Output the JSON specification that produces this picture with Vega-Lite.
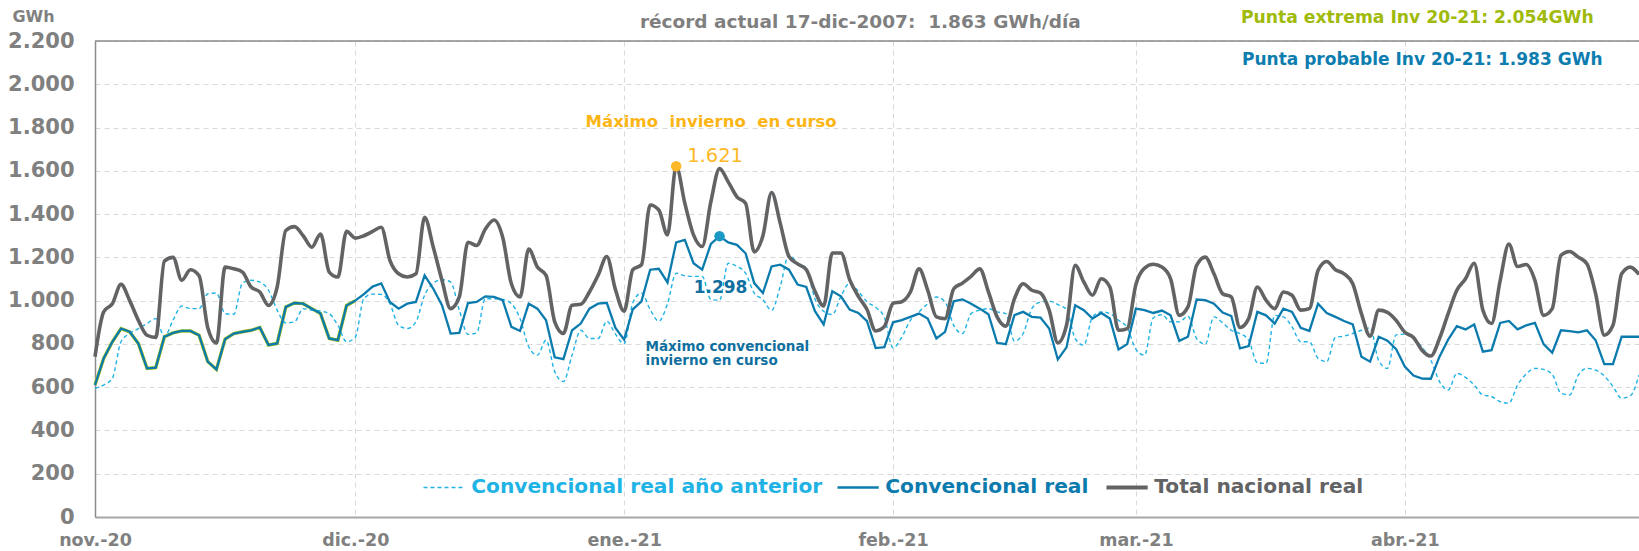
{
  "$schema": "https://vega.github.io/schema/vega-lite/v6.json",
  "width": 1544,
  "height": 476,
  "autosize": {"type": "none"},
  "padding": {"left": 95, "top": 41, "right": 0, "bottom": 34},
  "background": "white",
  "config": {
    "view": {"stroke": null},
    "font": "DejaVu Sans",
    "locale": {"number": {"decimal": ",", "thousands": ".", "grouping": [3], "currency": ["", " €"]}}
  },
  "datasets": {
    "gas": [
      {"fecha": "2020-11-01", "total": 741, "conv": 610, "ant": 595},
      {"fecha": "2020-11-02", "total": 948, "conv": 733, "ant": 610},
      {"fecha": "2020-11-03", "total": 986, "conv": 810, "ant": 641},
      {"fecha": "2020-11-04", "total": 1075, "conv": 871, "ant": 810},
      {"fecha": "2020-11-05", "total": 1000, "conv": 856, "ant": 848},
      {"fecha": "2020-11-06", "total": 909, "conv": 802, "ant": 871},
      {"fecha": "2020-11-07", "total": 840, "conv": 687, "ant": 894},
      {"fecha": "2020-11-08", "total": 830, "conv": 690, "ant": 917},
      {"fecha": "2020-11-09", "total": 1183, "conv": 833, "ant": 833},
      {"fecha": "2020-11-10", "total": 1200, "conv": 851, "ant": 910},
      {"fecha": "2020-11-11", "total": 1094, "conv": 860, "ant": 975},
      {"fecha": "2020-11-12", "total": 1143, "conv": 860, "ant": 963},
      {"fecha": "2020-11-13", "total": 1115, "conv": 840, "ant": 963},
      {"fecha": "2020-11-14", "total": 875, "conv": 718, "ant": 1032},
      {"fecha": "2020-11-15", "total": 805, "conv": 682, "ant": 1035},
      {"fecha": "2020-11-16", "total": 1155, "conv": 822, "ant": 940},
      {"fecha": "2020-11-17", "total": 1147, "conv": 848, "ant": 937},
      {"fecha": "2020-11-18", "total": 1132, "conv": 856, "ant": 1081},
      {"fecha": "2020-11-19", "total": 1063, "conv": 863, "ant": 1094},
      {"fecha": "2020-11-20", "total": 1040, "conv": 876, "ant": 1086},
      {"fecha": "2020-11-21", "total": 978, "conv": 795, "ant": 1048},
      {"fecha": "2020-11-22", "total": 1063, "conv": 802, "ant": 956},
      {"fecha": "2020-11-23", "total": 1324, "conv": 971, "ant": 897},
      {"fecha": "2020-11-24", "total": 1342, "conv": 989, "ant": 902},
      {"fecha": "2020-11-25", "total": 1300, "conv": 986, "ant": 963},
      {"fecha": "2020-11-26", "total": 1247, "conv": 963, "ant": 956},
      {"fecha": "2020-11-27", "total": 1308, "conv": 940, "ant": 952},
      {"fecha": "2020-11-28", "total": 1132, "conv": 825, "ant": 940},
      {"fecha": "2020-11-29", "total": 1109, "conv": 817, "ant": 886},
      {"fecha": "2020-11-30", "total": 1321, "conv": 978, "ant": 810},
      {"fecha": "2020-12-01", "total": 1289, "conv": 1000, "ant": 830},
      {"fecha": "2020-12-02", "total": 1300, "conv": 1030, "ant": 1010},
      {"fecha": "2020-12-03", "total": 1320, "conv": 1065, "ant": 1030},
      {"fecha": "2020-12-04", "total": 1339, "conv": 1080, "ant": 1029},
      {"fecha": "2020-12-05", "total": 1186, "conv": 994, "ant": 986},
      {"fecha": "2020-12-06", "total": 1124, "conv": 963, "ant": 886},
      {"fecha": "2020-12-07", "total": 1109, "conv": 986, "ant": 871},
      {"fecha": "2020-12-08", "total": 1124, "conv": 994, "ant": 902},
      {"fecha": "2020-12-09", "total": 1385, "conv": 1117, "ant": 1025},
      {"fecha": "2020-12-10", "total": 1247, "conv": 1055, "ant": 1081},
      {"fecha": "2020-12-11", "total": 1094, "conv": 979, "ant": 1097},
      {"fecha": "2020-12-12", "total": 963, "conv": 848, "ant": 1086},
      {"fecha": "2020-12-13", "total": 1017, "conv": 851, "ant": 956},
      {"fecha": "2020-12-14", "total": 1270, "conv": 989, "ant": 844},
      {"fecha": "2020-12-15", "total": 1255, "conv": 994, "ant": 851},
      {"fecha": "2020-12-16", "total": 1331, "conv": 1020, "ant": 1009},
      {"fecha": "2020-12-17", "total": 1373, "conv": 1017, "ant": 1009},
      {"fecha": "2020-12-18", "total": 1293, "conv": 1002, "ant": 1005},
      {"fecha": "2020-12-19", "total": 1078, "conv": 879, "ant": 986},
      {"fecha": "2020-12-20", "total": 1017, "conv": 860, "ant": 917},
      {"fecha": "2020-12-21", "total": 1239, "conv": 986, "ant": 787},
      {"fecha": "2020-12-22", "total": 1155, "conv": 963, "ant": 748},
      {"fecha": "2020-12-23", "total": 1117, "conv": 909, "ant": 817},
      {"fecha": "2020-12-24", "total": 902, "conv": 738, "ant": 672},
      {"fecha": "2020-12-25", "total": 848, "conv": 730, "ant": 626},
      {"fecha": "2020-12-26", "total": 979, "conv": 863, "ant": 748},
      {"fecha": "2020-12-27", "total": 983, "conv": 894, "ant": 863},
      {"fecha": "2020-12-28", "total": 1040, "conv": 963, "ant": 825},
      {"fecha": "2020-12-29", "total": 1117, "conv": 986, "ant": 825},
      {"fecha": "2020-12-30", "total": 1204, "conv": 990, "ant": 905},
      {"fecha": "2020-12-31", "total": 1051, "conv": 874, "ant": 845},
      {"fecha": "2021-01-01", "total": 951, "conv": 820, "ant": 800},
      {"fecha": "2021-01-02", "total": 1143, "conv": 960, "ant": 989},
      {"fecha": "2021-01-03", "total": 1166, "conv": 997, "ant": 1035},
      {"fecha": "2021-01-04", "total": 1442, "conv": 1143, "ant": 959},
      {"fecha": "2021-01-05", "total": 1419, "conv": 1147, "ant": 905},
      {"fecha": "2021-01-06", "total": 1304, "conv": 1084, "ant": 986},
      {"fecha": "2021-01-07", "total": 1621, "conv": 1269, "ant": 1127},
      {"fecha": "2021-01-08", "total": 1450, "conv": 1281, "ant": 1115},
      {"fecha": "2021-01-09", "total": 1304, "conv": 1173, "ant": 1112},
      {"fecha": "2021-01-10", "total": 1250, "conv": 1143, "ant": 1112},
      {"fecha": "2021-01-11", "total": 1457, "conv": 1262, "ant": 1005},
      {"fecha": "2021-01-12", "total": 1610, "conv": 1298, "ant": 1002},
      {"fecha": "2021-01-13", "total": 1549, "conv": 1269, "ant": 1173},
      {"fecha": "2021-01-14", "total": 1480, "conv": 1258, "ant": 1158},
      {"fecha": "2021-01-15", "total": 1450, "conv": 1219, "ant": 1127},
      {"fecha": "2021-01-16", "total": 1225, "conv": 1081, "ant": 1035},
      {"fecha": "2021-01-17", "total": 1300, "conv": 1035, "ant": 1005},
      {"fecha": "2021-01-18", "total": 1500, "conv": 1158, "ant": 955},
      {"fecha": "2021-01-19", "total": 1357, "conv": 1166, "ant": 1066},
      {"fecha": "2021-01-20", "total": 1204, "conv": 1143, "ant": 1212},
      {"fecha": "2021-01-21", "total": 1170, "conv": 1074, "ant": 1173},
      {"fecha": "2021-01-22", "total": 1143, "conv": 1063, "ant": 1150},
      {"fecha": "2021-01-23", "total": 1043, "conv": 951, "ant": 1008},
      {"fecha": "2021-01-24", "total": 975, "conv": 890, "ant": 951},
      {"fecha": "2021-01-25", "total": 1220, "conv": 1043, "ant": 936},
      {"fecha": "2021-01-26", "total": 1220, "conv": 1020, "ant": 1020},
      {"fecha": "2021-01-27", "total": 1097, "conv": 959, "ant": 1081},
      {"fecha": "2021-01-28", "total": 1020, "conv": 943, "ant": 1043},
      {"fecha": "2021-01-29", "total": 959, "conv": 905, "ant": 995},
      {"fecha": "2021-01-30", "total": 860, "conv": 781, "ant": 969},
      {"fecha": "2021-01-31", "total": 880, "conv": 785, "ant": 922},
      {"fecha": "2021-02-01", "total": 988, "conv": 900, "ant": 782},
      {"fecha": "2021-02-02", "total": 995, "conv": 910, "ant": 830},
      {"fecha": "2021-02-03", "total": 1040, "conv": 925, "ant": 909},
      {"fecha": "2021-02-04", "total": 1147, "conv": 940, "ant": 948},
      {"fecha": "2021-02-05", "total": 1048, "conv": 917, "ant": 986},
      {"fecha": "2021-02-06", "total": 925, "conv": 825, "ant": 1017},
      {"fecha": "2021-02-07", "total": 917, "conv": 856, "ant": 994},
      {"fecha": "2021-02-08", "total": 1055, "conv": 997, "ant": 886},
      {"fecha": "2021-02-09", "total": 1081, "conv": 1006, "ant": 848},
      {"fecha": "2021-02-10", "total": 1112, "conv": 986, "ant": 940},
      {"fecha": "2021-02-11", "total": 1147, "conv": 963, "ant": 956},
      {"fecha": "2021-02-12", "total": 1040, "conv": 937, "ant": 963},
      {"fecha": "2021-02-13", "total": 925, "conv": 805, "ant": 948},
      {"fecha": "2021-02-14", "total": 882, "conv": 799, "ant": 940},
      {"fecha": "2021-02-15", "total": 1009, "conv": 933, "ant": 813},
      {"fecha": "2021-02-16", "total": 1078, "conv": 948, "ant": 848},
      {"fecha": "2021-02-17", "total": 1048, "conv": 925, "ant": 963},
      {"fecha": "2021-02-18", "total": 1035, "conv": 922, "ant": 994},
      {"fecha": "2021-02-19", "total": 956, "conv": 871, "ant": 998},
      {"fecha": "2021-02-20", "total": 805, "conv": 728, "ant": 982},
      {"fecha": "2021-02-21", "total": 886, "conv": 784, "ant": 959},
      {"fecha": "2021-02-22", "total": 1163, "conv": 979, "ant": 825},
      {"fecha": "2021-02-23", "total": 1086, "conv": 956, "ant": 794},
      {"fecha": "2021-02-24", "total": 1025, "conv": 917, "ant": 925},
      {"fecha": "2021-02-25", "total": 1101, "conv": 943, "ant": 948},
      {"fecha": "2021-02-26", "total": 1063, "conv": 917, "ant": 940},
      {"fecha": "2021-02-27", "total": 863, "conv": 774, "ant": 909},
      {"fecha": "2021-02-28", "total": 871, "conv": 799, "ant": 875},
      {"fecha": "2021-03-01", "total": 1075, "conv": 963, "ant": 775},
      {"fecha": "2021-03-02", "total": 1150, "conv": 956, "ant": 748},
      {"fecha": "2021-03-03", "total": 1168, "conv": 943, "ant": 920},
      {"fecha": "2021-03-04", "total": 1155, "conv": 954, "ant": 935},
      {"fecha": "2021-03-05", "total": 1101, "conv": 932, "ant": 902},
      {"fecha": "2021-03-06", "total": 932, "conv": 814, "ant": 902},
      {"fecha": "2021-03-07", "total": 971, "conv": 833, "ant": 928},
      {"fecha": "2021-03-08", "total": 1163, "conv": 1005, "ant": 825},
      {"fecha": "2021-03-09", "total": 1201, "conv": 1002, "ant": 799},
      {"fecha": "2021-03-10", "total": 1124, "conv": 986, "ant": 925},
      {"fecha": "2021-03-11", "total": 1032, "conv": 945, "ant": 897},
      {"fecha": "2021-03-12", "total": 1017, "conv": 929, "ant": 863},
      {"fecha": "2021-03-13", "total": 876, "conv": 779, "ant": 848},
      {"fecha": "2021-03-14", "total": 917, "conv": 790, "ant": 817},
      {"fecha": "2021-03-15", "total": 1063, "conv": 948, "ant": 713},
      {"fecha": "2021-03-16", "total": 1002, "conv": 932, "ant": 710},
      {"fecha": "2021-03-17", "total": 963, "conv": 894, "ant": 932},
      {"fecha": "2021-03-18", "total": 1040, "conv": 963, "ant": 925},
      {"fecha": "2021-03-19", "total": 1025, "conv": 948, "ant": 879},
      {"fecha": "2021-03-20", "total": 956, "conv": 874, "ant": 810},
      {"fecha": "2021-03-21", "total": 963, "conv": 860, "ant": 810},
      {"fecha": "2021-03-22", "total": 1140, "conv": 986, "ant": 733},
      {"fecha": "2021-03-23", "total": 1181, "conv": 943, "ant": 718},
      {"fecha": "2021-03-24", "total": 1143, "conv": 925, "ant": 830},
      {"fecha": "2021-03-25", "total": 1124, "conv": 906, "ant": 836},
      {"fecha": "2021-03-26", "total": 1078, "conv": 890, "ant": 848},
      {"fecha": "2021-03-27", "total": 940, "conv": 741, "ant": 863},
      {"fecha": "2021-03-28", "total": 836, "conv": 718, "ant": 874},
      {"fecha": "2021-03-29", "total": 956, "conv": 833, "ant": 722},
      {"fecha": "2021-03-30", "total": 946, "conv": 815, "ant": 687},
      {"fecha": "2021-03-31", "total": 909, "conv": 776, "ant": 842},
      {"fecha": "2021-04-01", "total": 854, "conv": 695, "ant": 845},
      {"fecha": "2021-04-02", "total": 830, "conv": 654, "ant": 825},
      {"fecha": "2021-04-03", "total": 770, "conv": 640, "ant": 784},
      {"fecha": "2021-04-04", "total": 744, "conv": 639, "ant": 725},
      {"fecha": "2021-04-05", "total": 825, "conv": 741, "ant": 626},
      {"fecha": "2021-04-06", "total": 940, "conv": 820, "ant": 587},
      {"fecha": "2021-04-07", "total": 1048, "conv": 882, "ant": 664},
      {"fecha": "2021-04-08", "total": 1101, "conv": 867, "ant": 645},
      {"fecha": "2021-04-09", "total": 1173, "conv": 890, "ant": 610},
      {"fecha": "2021-04-10", "total": 956, "conv": 764, "ant": 564},
      {"fecha": "2021-04-11", "total": 894, "conv": 771, "ant": 557},
      {"fecha": "2021-04-12", "total": 1094, "conv": 897, "ant": 533},
      {"fecha": "2021-04-13", "total": 1262, "conv": 906, "ant": 526},
      {"fecha": "2021-04-14", "total": 1158, "conv": 867, "ant": 610},
      {"fecha": "2021-04-15", "total": 1167, "conv": 886, "ant": 661},
      {"fecha": "2021-04-16", "total": 1094, "conv": 897, "ant": 687},
      {"fecha": "2021-04-17", "total": 932, "conv": 799, "ant": 682},
      {"fecha": "2021-04-18", "total": 963, "conv": 759, "ant": 659},
      {"fecha": "2021-04-19", "total": 1209, "conv": 863, "ant": 572},
      {"fecha": "2021-04-20", "total": 1227, "conv": 859, "ant": 564},
      {"fecha": "2021-04-21", "total": 1201, "conv": 853, "ant": 656},
      {"fecha": "2021-04-22", "total": 1170, "conv": 863, "ant": 687},
      {"fecha": "2021-04-23", "total": 1032, "conv": 817, "ant": 679},
      {"fecha": "2021-04-24", "total": 840, "conv": 707, "ant": 652},
      {"fecha": "2021-04-25", "total": 886, "conv": 707, "ant": 603},
      {"fecha": "2021-04-26", "total": 1124, "conv": 833, "ant": 549},
      {"fecha": "2021-04-27", "total": 1155, "conv": 833, "ant": 560},
      {"fecha": "2021-04-28", "total": 1121, "conv": 833, "ant": 656}
    ]
  },
  "data": {"name": "gas"},
  "layer": [
    {
      "mark": {"type": "line", "color": "#a9bf1c", "strokeWidth": 3.4},
      "transform": [{"filter": "toDate(datum.fecha) <= utc(2020, 11, 1)"}],
      "encoding": {
        "x": {
          "field": "fecha",
          "type": "temporal",
          "scale": {
            "type": "utc",
            "domain": [
              {"year": 2020, "month": 11, "date": 1, "utc": true},
              {"year": 2021, "month": 4, "date": 28, "utc": true}
            ]
          },
          "axis": {
            "title": null,
            "values": [
              {"year": 2020, "month": 11, "date": 1, "utc": true},
              {"year": 2020, "month": 12, "date": 1, "utc": true},
              {"year": 2021, "month": 1, "date": 1, "utc": true},
              {"year": 2021, "month": 2, "date": 1, "utc": true},
              {"year": 2021, "month": 3, "date": 1, "utc": true},
              {"year": 2021, "month": 4, "date": 1, "utc": true}
            ],
            "labelExpr": "['ene.','feb.','mar.','abr.','may.','jun.','jul.','ago.','sept.','oct.','nov.','dic.'][utcmonth(datum.value)] + '-' + utcFormat(datum.value, '%y')",
            "labelFont": "DejaVu Sans",
            "labelFontWeight": "bold",
            "labelFontSize": 17.5,
            "labelColor": "#808080",
            "labelPadding": 14,
            "labelFlush": false,
            "labelOverlap": false,
            "ticks": false,
            "grid": true,
            "gridColor": "#d9d9d9",
            "gridDash": [5, 4],
            "gridWidth": 1,
            "domainColor": "#a6a6a6",
            "domainWidth": 2
          }
        },
        "y": {
          "field": "conv",
          "type": "quantitative",
          "scale": {"domain": [0, 2200], "nice": false, "zero": true},
          "axis": {
            "title": "GWh",
            "titleAngle": 0,
            "titleX": -62,
            "titleY": -25,
            "titleAlign": "center",
            "titleBaseline": "middle",
            "titleFont": "DejaVu Sans",
            "titleFontSize": 16,
            "titleFontWeight": "bold",
            "titleColor": "#808080",
            "values": [0, 200, 400, 600, 800, 1000, 1200, 1400, 1600, 1800, 2000, 2200],
            "format": ",d",
            "labelExpr": "replace(format(datum.value, ',d'), ',', '.')",
            "labelFont": "DejaVu Sans",
            "labelFontWeight": "bold",
            "labelFontSize": 21,
            "labelColor": "#808080",
            "labelPadding": 21,
            "ticks": false,
            "grid": true,
            "gridColor": "#d9d9d9",
            "gridDash": [5, 4],
            "gridWidth": 1,
            "domainColor": "#8c8c8c",
            "domainWidth": 1.5
          }
        }
      }
    },
    {
      "mark": {"type": "line", "interpolate": "monotone", "strokeWidth": 1.4, "strokeDash": [4, 3]},
      "encoding": {
        "x": {"field": "fecha", "type": "temporal"},
        "y": {"field": "ant", "type": "quantitative"},
        "color": {
          "datum": "Convencional real año anterior",
          "type": "nominal",
          "scale": {
            "domain": ["Convencional real año anterior", "Convencional real", "Total nacional real"],
            "range": ["#1fb3e5", "#0b7bae", "#626365"]
          },
          "legend": {
            "title": null,
            "orient": "none",
            "legendX": 334,
            "legendY": 436,
            "direction": "horizontal",
            "symbolType": "stroke",
            "symbolSize": 1700,
            "symbolOffset": 5,
            "labelFont": "DejaVu Sans",
            "labelFontWeight": "bold",
            "labelFontSize": 20.2,
            "labelOffset": 17,
            "labelLimit": 600,
            "columnPadding": 9,
            "encode": {
              "labels": {"update": {"fill": {"scale": "color", "field": "value"}}},
              "symbols": {
                "update": {
                  "strokeWidth": {"signal": "datum.value === 'Total nacional real' ? 4 : datum.value === 'Convencional real' ? 2.4 : 1.4"},
                  "strokeDash": {"signal": "datum.value === 'Convencional real año anterior' ? [4, 3] : [1, 0]"}
                }
              }
            }
          }
        }
      }
    },
    {
      "mark": {"type": "line", "strokeWidth": 2.3},
      "encoding": {
        "x": {"field": "fecha", "type": "temporal"},
        "y": {"field": "conv", "type": "quantitative"},
        "color": {"datum": "Convencional real", "type": "nominal"}
      }
    },
    {
      "mark": {"type": "line", "interpolate": "monotone", "strokeWidth": 3.6},
      "encoding": {
        "x": {"field": "fecha", "type": "temporal"},
        "y": {"field": "total", "type": "quantitative"},
        "color": {"datum": "Total nacional real", "type": "nominal"}
      }
    },
    {
      "data": {"values": [{}]},
      "mark": {"type": "rule", "color": "#8a8a8a", "strokeWidth": 1.6},
      "encoding": {"y": {"datum": 2200}}
    },
    {
      "transform": [{"filter": {"field": "total", "equal": 1621}}],
      "mark": {"type": "circle", "size": 110, "color": "#fdb827", "opacity": 1},
      "encoding": {
        "x": {"field": "fecha", "type": "temporal"},
        "y": {"field": "total", "type": "quantitative"}
      }
    },
    {
      "transform": [{"filter": {"field": "total", "equal": 1621}}],
      "mark": {"type": "text", "align": "left", "baseline": "middle", "dx": 11, "dy": -10, "fontSize": 19.5, "color": "#fdb827", "font": "DejaVu Sans"},
      "encoding": {
        "x": {"field": "fecha", "type": "temporal"},
        "y": {"field": "total", "type": "quantitative"},
        "text": {"field": "total", "type": "quantitative", "format": ",d"}
      }
    },
    {
      "transform": [{"filter": {"field": "total", "equal": 1621}}],
      "mark": {"type": "text", "align": "center", "baseline": "middle", "dx": 35, "dy": -44, "fontSize": 16.5, "fontWeight": "bold", "color": "#fdb515", "font": "DejaVu Sans", "text": "Máximo\u00a0 invierno\u00a0 en curso"},
      "encoding": {
        "x": {"field": "fecha", "type": "temporal"},
        "y": {"field": "total", "type": "quantitative"}
      }
    },
    {
      "transform": [{"filter": {"field": "conv", "equal": 1298}}],
      "mark": {"type": "circle", "size": 110, "color": "#1b98c4", "opacity": 1},
      "encoding": {
        "x": {"field": "fecha", "type": "temporal"},
        "y": {"field": "conv", "type": "quantitative"}
      }
    },
    {
      "transform": [{"filter": {"field": "conv", "equal": 1298}}],
      "mark": {"type": "text", "align": "center", "baseline": "middle", "dx": 1, "dy": 52, "fontSize": 17, "fontWeight": "bold", "color": "#0f6f9f", "font": "DejaVu Sans"},
      "encoding": {
        "x": {"field": "fecha", "type": "temporal"},
        "y": {"field": "conv", "type": "quantitative"},
        "text": {"field": "conv", "type": "quantitative", "format": ",d"}
      }
    },
    {
      "transform": [{"filter": {"field": "conv", "equal": 1298}}],
      "mark": {"type": "text", "align": "left", "baseline": "middle", "dx": -74, "dy": 111, "fontSize": 13.5, "lineHeight": 14.3, "fontWeight": "bold", "color": "#0f6f9f", "font": "DejaVu Sans", "text": ["Máximo convencional", "invierno en curso"]},
      "encoding": {
        "x": {"field": "fecha", "type": "temporal"},
        "y": {"field": "conv", "type": "quantitative"}
      }
    },
    {
      "data": {"values": [{}]},
      "mark": {"type": "text", "align": "center", "baseline": "middle", "dx": 2, "fontSize": 18.5, "fontWeight": "bold", "color": "#7f7f7f", "font": "DejaVu Sans", "text": "récord actual 17-dic-2007:\u00a0 1.863 GWh/día"},
      "encoding": {
        "x": {"datum": {"year": 2021, "month": 1, "date": 28, "utc": true}, "type": "temporal"},
        "y": {"datum": 2288}
      }
    },
    {
      "data": {"values": [{}]},
      "mark": {"type": "text", "align": "left", "baseline": "middle", "dx": 1, "fontSize": 17.2, "fontWeight": "bold", "color": "#9fba0a", "font": "DejaVu Sans", "text": "Punta extrema Inv 20-21: 2.054GWh"},
      "encoding": {
        "x": {"datum": {"year": 2021, "month": 3, "date": 13, "utc": true}, "type": "temporal"},
        "y": {"datum": 2304}
      }
    },
    {
      "data": {"values": [{}]},
      "mark": {"type": "text", "align": "left", "baseline": "middle", "dx": 2, "fontSize": 17, "fontWeight": "bold", "color": "#0d7db0", "font": "DejaVu Sans", "text": "Punta probable Inv 20-21: 1.983 GWh"},
      "encoding": {
        "x": {"datum": {"year": 2021, "month": 3, "date": 13, "utc": true}, "type": "temporal"},
        "y": {"datum": 2111}
      }
    }
  ]
}
